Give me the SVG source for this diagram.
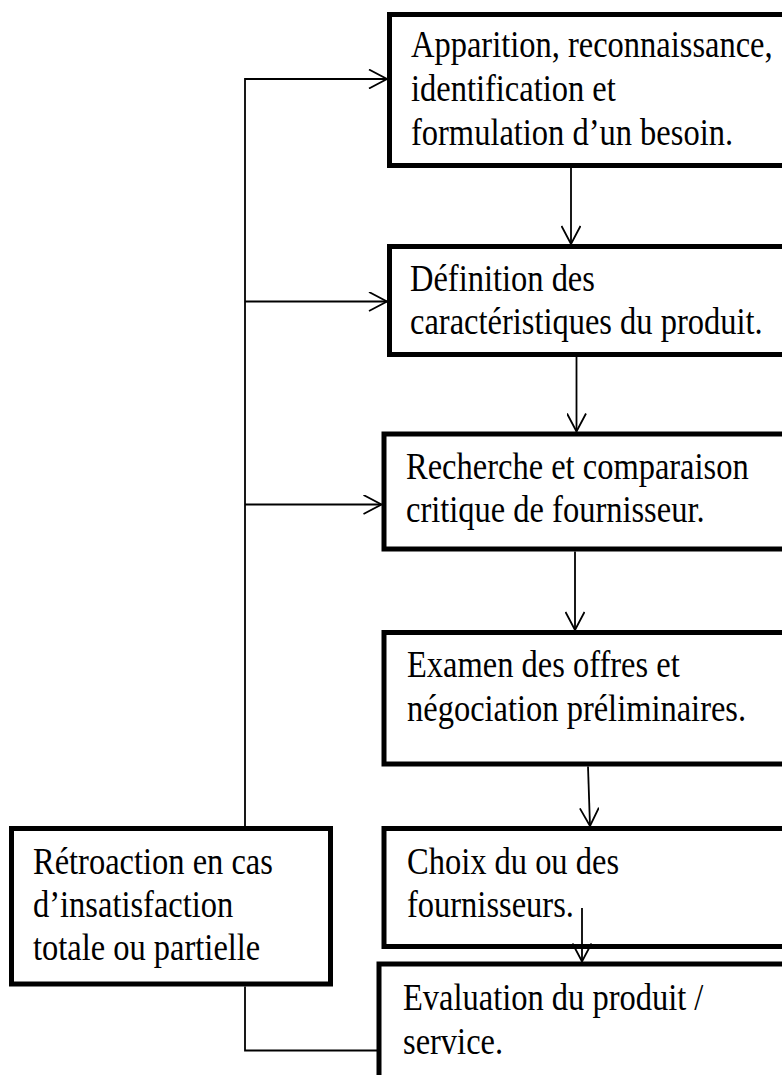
<svg xmlns="http://www.w3.org/2000/svg" width="782" height="1075" viewBox="0 0 782 1075">
<style>
.box{fill:#fff;stroke:#000;stroke-width:5}
.t{font-family:"Liberation Serif","Times New Roman",serif;font-size:32.5px;fill:#000}
.c{fill:none;stroke:#000;stroke-width:1.8}
</style>
<defs>
<marker id="ah" viewBox="0 0 20 20" refX="19" refY="10" markerWidth="20" markerHeight="20" markerUnits="userSpaceOnUse" orient="auto">
<path d="M1,0.5 L19,10 L1,19.5" fill="none" stroke="#000" stroke-width="1.8"/>
</marker>
</defs>
<rect width="782" height="1075" fill="#fff"/>
<g id="n1"><rect class="box" x="389.5" y="14.5" width="420" height="151"/>
<text class="t" transform="translate(411,57) scale(1,1.14)">Apparition, reconnaissance,</text>
<text class="t" transform="translate(411,101) scale(1,1.14)">identification et</text>
<text class="t" transform="translate(411,145) scale(1,1.14)">formulation d’un besoin.</text></g>
<g id="n2"><rect class="box" x="389.5" y="246.5" width="420" height="108"/>
<text class="t" transform="translate(410,291) scale(1,1.14)">Définition des</text>
<text class="t" transform="translate(410,334) scale(1,1.14)">caractéristiques du produit.</text></g>
<g id="n3"><rect class="box" x="384" y="434" width="420" height="115"/>
<text class="t" transform="translate(406,479) scale(1,1.14)">Recherche et comparaison</text>
<text class="t" transform="translate(406,522) scale(1,1.14)">critique de fournisseur.</text></g>
<g id="n4"><rect class="box" x="384" y="632.5" width="420" height="131.5"/>
<text class="t" transform="translate(407,677) scale(1,1.14)">Examen des offres et</text>
<text class="t" transform="translate(407,721) scale(1,1.14)">négociation préliminaires.</text></g>
<g id="n5"><rect class="box" x="384" y="828.5" width="420" height="118"/>
<text class="t" transform="translate(407,874) scale(1,1.14)">Choix du ou des</text>
<text class="t" transform="translate(407,917) scale(1,1.14)">fournisseurs.</text></g>
<g id="n6"><rect class="box" x="379" y="964" width="420" height="130"/>
<text class="t" transform="translate(403,1010) scale(1,1.14)">Evaluation du produit /</text>
<text class="t" transform="translate(403,1054) scale(1,1.14)">service.</text></g>
<g id="n7"><rect class="box" x="11.5" y="828.5" width="319" height="155.5"/>
<text class="t" transform="translate(33,874) scale(1,1.14)">Rétroaction en cas</text>
<text class="t" transform="translate(33,917) scale(1,1.14)">d’insatisfaction</text>
<text class="t" transform="translate(33,960) scale(1,1.14)">totale ou partielle</text></g>
<g id="connectors">
<path class="c" d="M571,168 V244" marker-end="url(#ah)"/>
<path class="c" d="M576.5,357 V431.5" marker-end="url(#ah)"/>
<path class="c" d="M575,551.5 V630" marker-end="url(#ah)"/>
<path class="c" d="M588,766.5 L590,826" marker-end="url(#ah)"/>
<path class="c" d="M582,908 V961.5" marker-end="url(#ah)"/>
<path class="c" d="M245,826 V79 H387" marker-end="url(#ah)"/>
<path class="c" d="M245,301.5 H387" marker-end="url(#ah)"/>
<path class="c" d="M245,504.5 H381.5" marker-end="url(#ah)"/>
<path class="c" d="M245,986.5 V1050.5 H377"/>
</g>
</svg>
